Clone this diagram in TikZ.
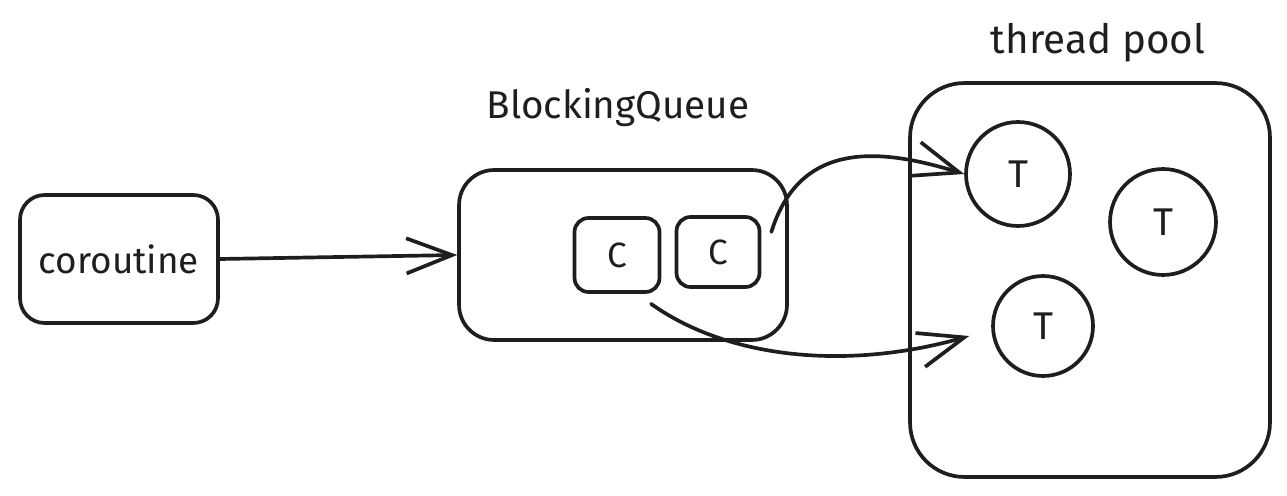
\documentclass[tikz,border=0pt]{standalone}
\usepackage{fontspec}
\setmainfont{Fira Sans}
\usetikzlibrary{arrows.meta}
\definecolor{ink}{HTML}{1E1E1E}
\begin{document}
\begin{tikzpicture}[x=0.02cm,y=-0.02cm,
  box/.style={draw=ink,line width=2.1pt,inner sep=0pt},
  lbl/.style={text=ink,font=\fontsize{21}{25}\selectfont},
  tcirc/.style={draw=ink,line width=2.1pt,circle,inner sep=0pt,text=ink,font=\fontsize{22}{24}\selectfont},
  conn/.style={draw=ink,line width=2.1pt,line cap=round,-{Straight Barb[length=26pt,width=20pt,line width=2.1pt]}}]
\useasboundingbox (0,0) rectangle (1287,496);
% boxes
\node[box,rounded corners=14pt,minimum width=3.96cm,minimum height=2.56cm,lbl] (cor) at (119,259) {coroutine};
\node[box,rounded corners=20pt,minimum width=6.56cm,minimum height=3.4cm] (bq) at (623,255) {};
\node[lbl,font=\fontsize{22}{26}\selectfont] (bqlabel) at (618,108) {BlockingQueue};
\node[box,rounded corners=8pt,minimum width=1.7cm,minimum height=1.48cm,text=ink,font=\fontsize{20}{22}\selectfont] (c1) at (617,255) {C};
\node[box,rounded corners=8pt,minimum width=1.66cm,minimum height=1.4cm,text=ink,font=\fontsize{20}{22}\selectfont] (c2) at (718,252) {C};
\node[box,rounded corners=31pt,minimum width=7.2cm,minimum height=7.88cm] (tp) at (1090,280) {};
\node[lbl,font=\fontsize{23}{27}\selectfont] (tplabel) at (1098,43) {thread pool};
\node[tcirc,minimum size=2.08cm] (t1) at (1018,174) {T};
\node[tcirc,minimum size=2.12cm] (t2) at (1163,222) {T};
\node[tcirc,minimum size=2.0cm] (t3) at (1043,326) {T};
% connectors
\draw[conn] (cor.east) -- (bq.west);
\draw[conn] ([shift={(10,-20)}]c2.east) .. controls (800,140) and (880,148) .. (t1.west);
\draw[conn] ([shift={(34,10)}]c1.south) .. controls (730,360) and (850,370) .. ([shift={(-22,10)}]t3.west);
\end{tikzpicture}
\end{document}
